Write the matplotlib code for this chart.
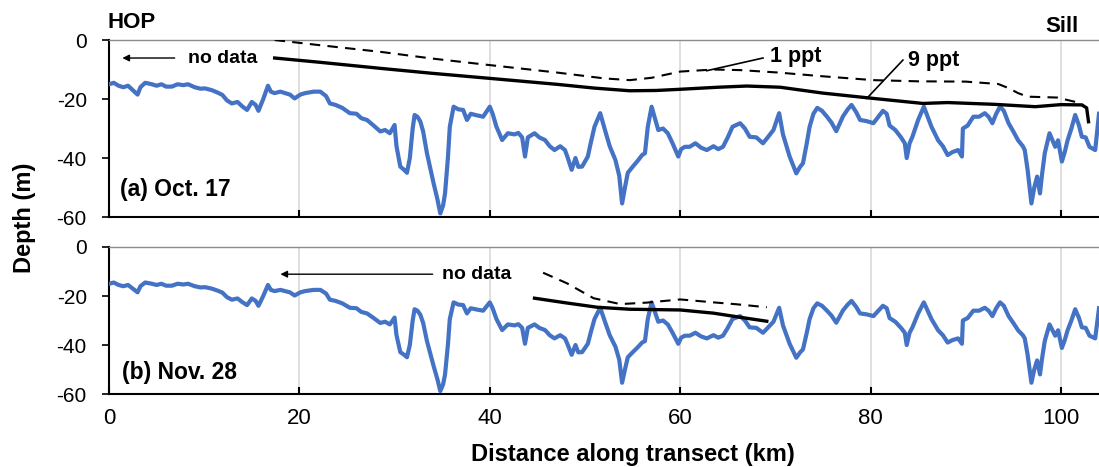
import matplotlib
matplotlib.use("Agg")
from matplotlib import pyplot as plt

plt.rcParams["font.family"] = ["Liberation Sans", "DejaVu Sans"]
plt.rcParams["axes.unicode_minus"] = False

# bathymetry along the transect (same profile on both dates)
bathy_km = [0.0, 0.5, 1.0, 1.5, 2.0, 2.5, 3.0, 3.3, 3.8, 4.5, 5.0, 5.5, 6.0, 6.6, 7.2,
            7.8, 8.3, 9.0, 9.6, 10.1, 10.8, 11.4, 11.9, 12.4, 12.9, 13.5, 14.0, 14.5,
            15.0, 15.4, 15.7, 16.2, 16.7, 17.0, 17.4, 18.0, 18.5, 19.0, 19.5, 20.1,
            20.6, 21.5, 22.2, 22.8, 23.2, 23.8, 24.5, 25.3, 26.0, 26.5, 27.1, 27.8,
            28.5, 29.0, 29.5, 30.0, 30.2, 30.6, 31.0, 31.3, 31.6, 31.9, 32.1, 32.4,
            32.7, 33.0, 33.4, 34.1, 34.5, 34.8, 35.1, 35.3, 35.6, 35.8, 36.2, 36.7,
            37.2, 37.6, 38.0, 38.6, 39.3, 40.0, 40.3, 40.7, 41.3, 41.9, 42.6, 43.0,
            43.4, 43.7, 44.0, 44.7, 45.2, 45.8, 46.3, 46.8, 47.4, 47.9, 48.2, 48.6,
            49.0, 49.3, 49.7, 50.3, 50.6, 51.0, 51.6, 52.1, 52.6, 53.2, 53.6, 53.9,
            54.2, 54.5, 55.0, 55.6, 56.0, 56.3, 56.6, 57.0, 57.3, 57.7, 58.2, 58.7,
            59.2, 59.8, 60.1, 60.5, 61.0, 61.6, 62.2, 62.8, 63.5, 64.0, 64.5, 65.0,
            65.5, 66.3, 66.8, 67.3, 68.0, 68.7, 69.2, 69.8, 70.4, 70.8, 71.5, 72.2,
            72.6, 72.9, 73.3, 73.6, 74.0, 74.4, 74.9, 75.4, 75.9, 76.4, 77.1, 77.6,
            78.0, 78.5, 78.9, 79.6, 80.3, 81.3, 81.7, 82.0, 82.6, 83.2, 83.6, 83.8,
            84.1, 84.4, 85.0, 85.6, 86.0, 86.4, 87.1, 87.6, 88.1, 88.6, 89.2, 89.6,
            89.7, 90.2, 90.8, 91.4, 92.0, 92.4, 92.8, 93.2, 93.6, 94.0, 94.5, 95.0,
            95.5, 96.0, 96.2, 96.5, 96.9, 97.2, 97.5, 97.8, 98.0, 98.3, 98.8, 99.4,
            99.7, 100.1, 100.4, 100.7, 101.1, 101.5, 101.9, 102.2, 102.6, 103.0,
            103.6, 104.0]
bathy_depth = [-15, -14.5, -15.5, -16, -15.5, -17, -18.5, -16, -14.5, -15, -15.5, -15,
               -15.8, -15.8, -15, -15.3, -15, -16, -16.5, -16.4, -17, -17.8, -18.6,
               -20.5, -21.5, -21, -22.5, -23.7, -21, -22, -24, -20, -15.5, -17.5, -18,
               -17.5, -18, -18.5, -19.8, -18.5, -18, -17.5, -17.5, -19, -21.5, -22,
               -23, -24.8, -25, -26.5, -27.1, -29, -31, -30.5, -31.6, -28.8, -36,
               -42.9, -44, -45, -40, -30, -25.4, -26, -27.6, -31, -38.4, -48.6, -54,
               -58.8, -56, -52, -40, -29.4, -22.6, -23.5, -23.7, -27.1, -25, -25.5,
               -26, -22.6, -25, -29.4, -33.9, -31.6, -32, -31.5, -33, -39.5, -33,
               -31.6, -33, -33.9, -36, -37.3, -36, -37.3, -40, -44, -40, -43, -42.9,
               -39.5, -35, -29.4, -24.8, -30.5, -36, -40.7, -46, -55.4, -50, -45, -43,
               -40.7, -39, -38.4, -29.4, -22.6, -26, -30.5, -30, -31.6, -35, -39.5,
               -37, -36.2, -36.2, -35, -36.5, -37.3, -36, -37, -36.2, -33, -29.4,
               -28.2, -30, -32.8, -33, -35, -33, -30.5, -24.8, -32, -39.5, -45.2, -43,
               -41.8, -35, -29.4, -25, -23, -24, -25.9, -28, -30.9, -25.9, -23.5, -22,
               -24.5, -27.1, -27.5, -28.2, -24, -25, -29, -30.5, -33, -35, -40, -35,
               -32.8, -27.1, -22.6, -26, -29.4, -34, -36, -39, -38, -37.3, -39.5, -30,
               -29, -26, -26, -24.8, -26, -28.2, -25, -22.6, -24, -28.2, -31, -34, -36,
               -37.3, -44, -55.4, -50, -46.3, -52, -46, -38.4, -31.6, -36.2, -34,
               -41.2, -38, -34, -30, -25.4, -29, -32.8, -33, -36.2, -37.3, -25]

# isohalines, Oct. 17
oct_9ppt_km = [17.4, 22, 28.5, 34, 40, 47, 51, 54.7, 57.5, 60, 64, 67, 70.5, 75, 80.3,
               85.5, 88.1, 93, 97.3, 100, 102.2, 102.7, 102.9]
oct_9ppt_depth = [-6.1, -7.5, -9.6, -11.3, -13, -15, -16.3, -17.2, -17.1, -16.7, -16,
                  -15.6, -16, -18, -19.8, -21.5, -21.2, -21.8, -22.6, -21.9, -22, -23,
                  -27.7]
oct_1ppt_km = [17.4, 22, 28.5, 34, 40, 47, 52, 54.7, 57, 60, 63.5, 66.3, 70.2, 75, 80.3,
               85, 90, 93.4, 94.5, 95.5, 96.5, 99.6, 101.8, 102.3]
oct_1ppt_depth = [0, -1.7, -4, -6.3, -8.5, -11, -13, -13.6, -12.8, -10.7, -10, -10.2,
                  -11, -12.3, -13.6, -14, -14.1, -14.9, -16.3, -18, -19.2, -19.5, -21.2,
                  -22]

# isohalines, Nov. 28
nov_9ppt_km = [44.7, 48, 51.3, 54.7, 60, 63.5, 66.5, 69.1]
nov_9ppt_depth = [-20.9, -22.8, -24.6, -25.4, -25.7, -27, -28.8, -30.3]
nov_1ppt_km = [45.6, 48.1, 50.9, 53.7, 56.5, 60, 63.5, 66, 69.1]
nov_1ppt_depth = [-10.5, -14.8, -20.9, -23.3, -22.7, -21.4, -22.6, -23.4, -24.6]

xticks = [0, 20, 40, 60, 80, 100]
yticks = [0, -20, -40, -60]

BLUE = "#4472C4"

fig = plt.figure(figsize=(10.99, 4.67), dpi=100)
ax1 = fig.add_axes([0.0992, 0.5353, 0.9008, 0.3790])
ax2 = fig.add_axes([0.0992, 0.1563, 0.9008, 0.3148])

for ax in (ax1, ax2):
    ax.plot(bathy_km, bathy_depth, color=BLUE, lw=3.0, solid_joinstyle="round", zorder=3)
    ax.set_xlim(0, 104)
    ax.set_ylim(-60, 0)
    ax.set_xticks(xticks)
    ax.set_yticks(yticks)
    ax.grid(axis="x", color="#d9d9d9", lw=1.2)
    ax.set_axisbelow(True)
    ax.spines["right"].set_visible(False)
    ax.spines["top"].set_color("#8c8c8c")
    ax.spines["top"].set_linewidth(1.0)
    ax.spines["left"].set_linewidth(1.5)
    ax.spines["bottom"].set_linewidth(1.5)
    ax.tick_params(axis="x", direction="in", length=5, width=1.5, labelsize=16, pad=10)
    ax.tick_params(axis="y", direction="out", length=5, width=1.2, labelsize=15, pad=11)

ax1.tick_params(axis="x", labelbottom=False)

# Oct. 17 panel
ax1.plot(oct_9ppt_km, oct_9ppt_depth, color="black", lw=2.4, zorder=4)
ax1.plot(oct_1ppt_km, oct_1ppt_depth, color="black", lw=1.5, ls=(0, (5, 3.5)), zorder=4)
ax1.annotate("", xy=(1.4, -6.1), xytext=(6.9, -6.1),
             arrowprops=dict(arrowstyle="-|>", color="black", lw=1.0,
                             mutation_scale=10, shrinkA=0, shrinkB=0))
ax1.text(8.3, -6.1, "no data", fontsize=14, fontweight="bold", va="center", ha="left")
ax1.plot([68.7, 62.8], [-6.1, -10.4], color="black", lw=1.2)
ax1.text(69.4, -5.7, "1 ppt", fontsize=15.5, fontweight="bold", va="center", ha="left")
ax1.plot([83.4, 79.6], [-6.8, -19.8], color="black", lw=1.2)
ax1.text(83.9, -6.8, "9 ppt", fontsize=15.5, fontweight="bold", va="center", ha="left")
ax1.text(1.2, -50.8, "(a) Oct. 17", fontsize=16.5, fontweight="bold", va="center",
         ha="left")
ax1.text(-0.2, 6.1, "HOP", fontsize=16, fontweight="bold", va="center", ha="left",
         clip_on=False)
ax1.text(100.1, 4.7, "Sill", fontsize=16, fontweight="bold", va="center", ha="center",
         clip_on=False)

# Nov. 28 panel
ax2.plot(nov_9ppt_km, nov_9ppt_depth, color="black", lw=2.4, zorder=4)
ax2.plot(nov_1ppt_km, nov_1ppt_depth, color="black", lw=1.5, ls=(0, (5, 3.5)), zorder=4)
ax2.annotate("", xy=(18.0, -11.1), xytext=(34.0, -11.1),
             arrowprops=dict(arrowstyle="-|>", color="black", lw=1.0,
                             mutation_scale=10, shrinkA=0, shrinkB=0))
ax2.text(35.0, -11.1, "no data", fontsize=14, fontweight="bold", va="center", ha="left")
ax2.text(1.4, -51.3, "(b) Nov. 28", fontsize=16.5, fontweight="bold", va="center",
         ha="left")

fig.text(633 / 1099, 1 - 455 / 467, "Distance along transect (km)", fontsize=17,
         fontweight="bold", ha="center", va="center")
fig.text(25 / 1099, 1 - 218 / 467, "Depth (m)", fontsize=17, fontweight="bold",
         ha="center", va="center", rotation=90)

fig.savefig("out.png", dpi=100)
